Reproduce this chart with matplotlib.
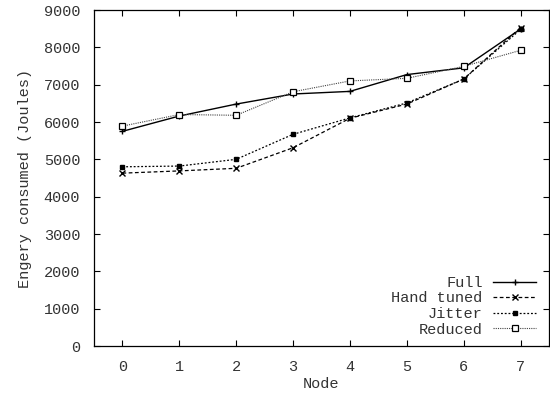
import matplotlib
matplotlib.use("Agg")
import matplotlib.pyplot as plt

nodes = [0, 1, 2, 3, 4, 5, 6, 7]
full = [5750, 6160, 6480, 6750, 6820, 7270, 7450, 8490]
hand_tuned = [4630, 4690, 4760, 5310, 6100, 6480, 7150, 8530]
jitter = [4800, 4820, 5000, 5670, 6110, 6510, 7150, 8480]
reduced = [5890, 6200, 6180, 6810, 7100, 7170, 7490, 7920]

plt.rcParams['font.family'] = ['Liberation Mono', 'DejaVu Sans Mono']
plt.rcParams['font.size'] = 11
text_col = '#333333'

fig = plt.figure(figsize=(5.5, 3.96), dpi=100)
ax = fig.add_axes([94 / 550, 50 / 396, 455 / 550, 336 / 396])

ax.plot(nodes, full, color='black', linestyle='-', linewidth=1.0,
        marker='+', markersize=5, markeredgewidth=1.0, label='Full')
ax.plot(nodes, hand_tuned, color='black', linestyle=(0, (3, 2)), linewidth=0.9,
        marker='x', markersize=4, markeredgewidth=1.0, label='Hand tuned')
ax.plot(nodes, jitter, color='black', linestyle=(0, (1.5, 1.5)), linewidth=0.9,
        marker='s', markersize=3.5, markerfacecolor='black', label='Jitter')
ax.plot(nodes, reduced, color='#444444', linestyle=(0, (1, 1)), linewidth=0.8,
        marker='s', markersize=5, markerfacecolor='white', markeredgecolor='black',
        markeredgewidth=0.9, label='Reduced')

ax.set_xlim(-0.5, 7.5)
ax.set_ylim(0, 9000)
ax.set_xticks(nodes)
ax.set_yticks(range(0, 9001, 1000))
ax.tick_params(direction='in', top=True, right=True, length=4, width=0.8,
               labelcolor=text_col)
ax.tick_params(axis='y', pad=10)
ax.tick_params(axis='x', pad=10)
for s in ax.spines.values():
    s.set_linewidth(0.9)

ax.set_xlabel('Node', labelpad=2, color=text_col)
ax.set_ylabel('Engery consumed (Joules)', labelpad=8, color=text_col)

leg = ax.legend(loc='lower right', frameon=False, markerfirst=False, handlelength=2.8,
                handletextpad=0.7, labelspacing=0.1, borderaxespad=0.0,
                bbox_to_anchor=(0.985, 0.01))
for t in leg.get_texts():
    t.set_color(text_col)

fig.savefig('out.png', dpi=100)
